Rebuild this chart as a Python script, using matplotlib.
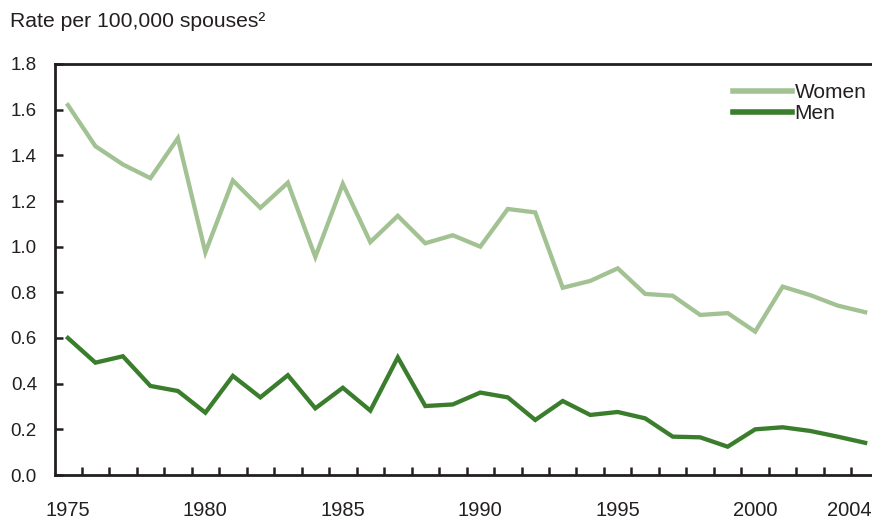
import numpy as np
import matplotlib
matplotlib.use("Agg")
import matplotlib.pyplot as plt
import matplotlib.transforms as mtransforms

# -------------------------
# DATA
# -------------------------
years = list(range(1975, 2005))
women = [1.62, 1.44, 1.36, 1.30, 1.475, 0.975, 1.29, 1.17, 1.28, 0.955,
         1.275, 1.02, 1.135, 1.015, 1.05, 1.00, 1.165, 1.15, 0.82, 0.85,
         0.905, 0.793, 0.785, 0.701, 0.709, 0.628, 0.825, 0.788, 0.742, 0.713]
men = [0.60, 0.492, 0.52, 0.39, 0.368, 0.273, 0.434, 0.34, 0.437, 0.292,
       0.382, 0.282, 0.515, 0.302, 0.309, 0.361, 0.34, 0.241, 0.324, 0.263,
       0.276, 0.248, 0.168, 0.165, 0.124, 0.20, 0.209, 0.193, 0.168, 0.141]
year_labels = [1975, 1980, 1985, 1990, 1995, 2000, 2004]
y_ticks = [0.0, 0.2, 0.4, 0.6, 0.8, 1.0, 1.2, 1.4, 1.6, 1.8]

WOMEN_COLOR = "#a3c293"
MEN_COLOR = "#3a7d2c"
TEXT_COLOR = "#231f20"

plt.rcParams['font.family'] = ['Liberation Sans', 'DejaVu Sans']

W, H = 872, 519
fig = plt.figure(figsize=(W / 100, H / 100), dpi=100)
ax = fig.add_axes([55 / W, 1 - 475 / H, 1 - 55 / W, (475 - 64) / H])

ax.plot(years, women, color=WOMEN_COLOR, lw=3.1, label="Women", solid_joinstyle="miter")
ax.plot(years, men, color=MEN_COLOR, lw=3.1, label="Men", solid_joinstyle="miter")

ax.set_xlim(1974.53, 2004.25)
ax.set_ylim(0, 1.8)

# spines
ax.spines["right"].set_visible(False)
for side in ["left", "bottom", "top"]:
    ax.spines[side].set_linewidth(2.0)
    ax.spines[side].set_color(TEXT_COLOR)

# y ticks
ax.set_yticks(y_ticks)
ax.set_yticklabels([f"{v:.1f}" for v in y_ticks])
ax.tick_params(axis="y", direction="in", length=6, width=1.8, pad=13,
               labelsize=13.5, colors=TEXT_COLOR)

# x ticks: labels at year centres, marks at year boundaries
ax.set_xticks(year_labels)
ax.set_xticklabels([str(y) for y in year_labels])
ax.set_xticks(np.arange(1975.5, 2004.5, 1.0), minor=True)
ax.tick_params(axis="x", which="major", length=0, pad=19, labelsize=14.5,
               colors=TEXT_COLOR)
ax.tick_params(axis="x", which="minor", direction="in", length=6, width=1.8,
               colors=TEXT_COLOR)

# last label is pulled in so it fits
last = ax.get_xticklabels()[-1]
last.set_horizontalalignment("right")
last.set_transform(last.get_transform() + mtransforms.ScaledTranslation(6 / 100, 0, fig.dpi_scale_trans))

# legend
leg = ax.legend(loc="upper left", bbox_to_anchor=(733 / W, 1 - 83 / H),
                bbox_transform=fig.transFigure, frameon=False, fontsize=15,
                handlelength=2.85, handletextpad=0.1, labelspacing=0.1,
                borderpad=0, borderaxespad=0)
for t in leg.get_texts():
    t.set_color(TEXT_COLOR)
for l in leg.get_lines():
    l.set_linewidth(4)

fig.text(10 / W, 1 - 27 / H, "Rate per 100,000 spouses\u00b2", fontsize=15.2,
         color=TEXT_COLOR, ha="left", va="baseline")

fig.savefig("out.png", dpi=100)
